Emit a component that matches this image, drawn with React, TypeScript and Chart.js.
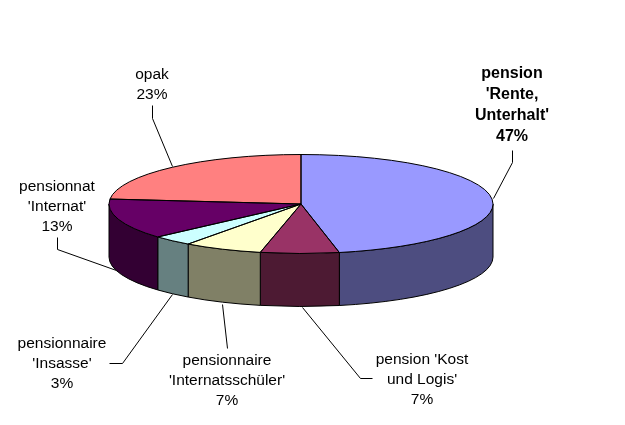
import React, { useEffect, useRef } from "react";
import { Chart, registerables } from "chart.js";

Chart.register(...registerables);

const categoryLines: string[][] = [
  ["pension", "'Rente,", "Unterhalt'"],
  ["pension 'Kost", "und Logis'"],
  ["pensionnaire", "'Internatsschüler'"],
  ["pensionnaire", "'Insasse'"],
  ["pensionnat", "'Internat'"],
  ["opak"],
];
const percentLabels = ["47%", "7%", "7%", "3%", "13%", "23%"];
const sliceValues = [46.8, 6.6, 6.6, 3.4, 13.2, 23.4];

const topColors = ["#9999FF", "#993366", "#FFFFCC", "#CCFFFF", "#660066", "#FF8080"];
const wallColors = ["#4D4D80", "#4D1A33", "#808066", "#668080", "#330033", "#804040"];

const RADIUS_X = 192;
const RADIUS_Y = 49.5;
const DEPTH = 53;
const FONT_FAMILY = '"Liberation Sans", Arial, sans-serif';

// Callout placement, one entry per slice: text centre x, first-line centre y, line step, leader polyline.
const callouts = [
  { x: 512, y: 74, step: 21, bold: true, leader: [[512, 150], [512, 162], [493, 198]] },
  { x: 422, y: 360, step: 20, bold: false, leader: [[372, 378], [360, 378], [302, 307]] },
  { x: 227, y: 361, step: 20, bold: false, leader: [[227, 348], [222, 304]] },
  { x: 62, y: 344, step: 20, bold: false, leader: [[109, 363], [122, 363], [172, 294]] },
  { x: 57, y: 187, step: 20, bold: false, leader: [[57, 237], [57, 249], [116, 270]] },
  { x: 152, y: 75, step: 20, bold: false, leader: [[152, 105], [152, 118], [172, 166]] },
];

const pie3d = {
  id: "pie3d",
  beforeDatasetsDraw(chart: any) {
    const { ctx } = chart;
    const arcs = chart.getDatasetMeta(0).data;
    ctx.save();
    ctx.lineWidth = 1;
    ctx.strokeStyle = "#000";
    arcs.forEach((arc: any, i: number) => {
      const { x, y, startAngle, endAngle, outerRadius } = arc.getProps(
        ["x", "y", "startAngle", "endAngle", "outerRadius"],
        true
      );
      const ry = outerRadius * (RADIUS_Y / RADIUS_X);
      const a = Math.max(startAngle, 0);
      const b = Math.min(endAngle, Math.PI);
      if (a >= b) return;
      ctx.beginPath();
      ctx.ellipse(x, y, outerRadius, ry, 0, a, b, false);
      ctx.ellipse(x, y + DEPTH, outerRadius, ry, 0, b, a, true);
      ctx.closePath();
      ctx.fillStyle = wallColors[i];
      ctx.fill();
      ctx.stroke();
    });
    ctx.restore();
    const first = arcs[0];
    const cx = first.x;
    const cy = first.y;
    ctx.save();
    ctx.translate(cx, cy);
    ctx.scale(1, RADIUS_Y / RADIUS_X);
    ctx.translate(-cx, -cy);
  },
  afterDatasetsDraw(chart: any) {
    const { ctx } = chart;
    ctx.restore();
    const arcs = chart.getDatasetMeta(0).data;
    ctx.save();
    ctx.lineWidth = 1;
    ctx.strokeStyle = "#000";
    arcs.forEach((arc: any) => {
      const { x, y, startAngle, endAngle, outerRadius } = arc.getProps(
        ["x", "y", "startAngle", "endAngle", "outerRadius"],
        true
      );
      const ry = outerRadius * (RADIUS_Y / RADIUS_X);
      ctx.beginPath();
      ctx.moveTo(x, y);
      ctx.ellipse(x, y, outerRadius, ry, 0, startAngle, endAngle, false);
      ctx.closePath();
      ctx.stroke();
    });
    ctx.fillStyle = "#000";
    ctx.textAlign = "center";
    ctx.textBaseline = "middle";
    callouts.forEach((c, i) => {
      ctx.font = `${c.bold ? "bold 16" : "15.5"}px ${FONT_FAMILY}`;
      [...categoryLines[i], percentLabels[i]].forEach((line, n) => {
        ctx.fillText(line, c.x, c.y + n * c.step);
      });
      ctx.beginPath();
      c.leader.forEach(([px, py], n) => {
        if (n === 0) ctx.moveTo(px + 0.5, py + 0.5);
        else ctx.lineTo(px + 0.5, py + 0.5);
      });
      ctx.stroke();
    });
    ctx.restore();
  },
};

export default function App() {
  const ref = useRef<HTMLCanvasElement | null>(null);
  useEffect(() => {
    const chart = new Chart(ref.current as HTMLCanvasElement, {
      type: "pie",
      data: {
        labels: categoryLines.map((l) => l.join(" ")),
        datasets: [
          {
            data: sliceValues,
            backgroundColor: topColors,
            borderWidth: 0,
            radius: RADIUS_X,
          } as any,
        ],
      },
      options: {
        responsive: false,
        animation: false,
        layout: { padding: { right: 23, bottom: 17 } },
        plugins: { legend: { display: false }, tooltip: { enabled: false } },
      },
      plugins: [pie3d],
    } as any);
    return () => chart.destroy();
  }, []);
  return (
    <div style={{ position: "absolute", left: 0, top: 0, width: 625, height: 425, background: "#fff" }}>
      <canvas ref={ref} width={625} height={425} style={{ display: "block" }} />
    </div>
  );
}
